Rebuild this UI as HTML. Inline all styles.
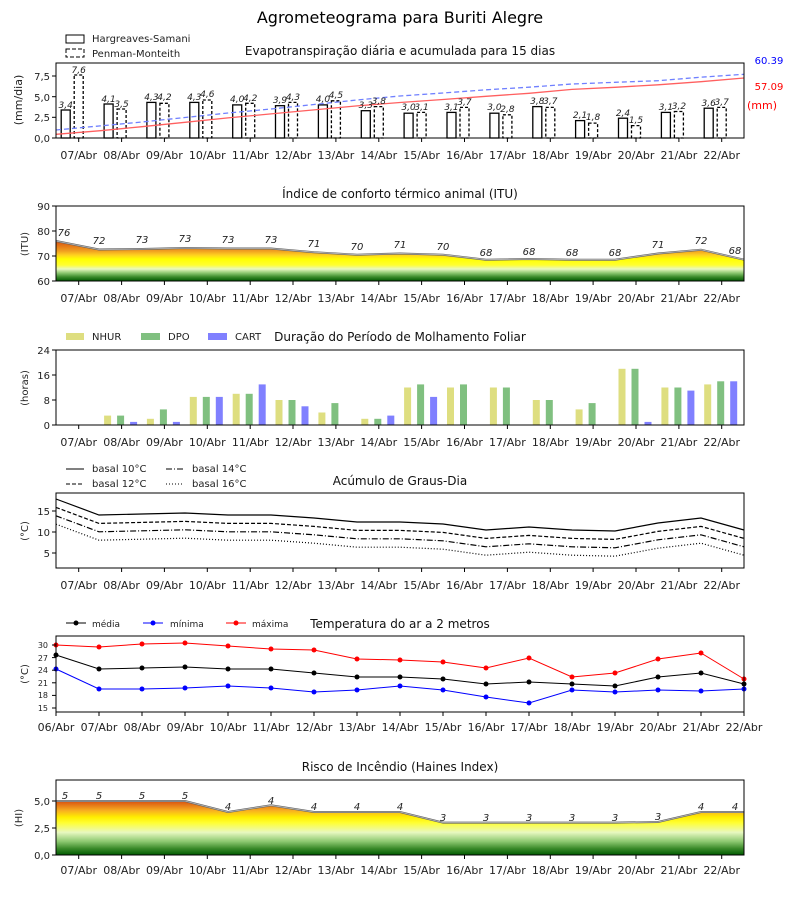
<!DOCTYPE html>
<html><head><meta charset="utf-8"><style>
html,body{margin:0;padding:0;background:#fff}
svg{display:block;font-family:"DejaVu Sans","Liberation Sans",sans-serif}
.t{font-size:11px;fill:#222}
.yt{font-size:10px;fill:#222;text-anchor:end}
.xl{font-size:11px;fill:#222;text-anchor:middle}
.it{font-size:9px;font-style:italic;fill:#222;text-anchor:middle}
.ttl{font-size:12px;fill:#111;text-anchor:middle}
.lg{font-size:10px;fill:#222}
.ax{fill:none;stroke:#000;stroke-width:1}
.tk{stroke:#000;stroke-width:1}
</style></head><body>
<svg width="800" height="900" viewBox="0 0 800 900" xmlns="http://www.w3.org/2000/svg">
<defs>
<linearGradient id="gi" gradientUnits="userSpaceOnUse" x1="0" y1="281" x2="0" y2="241">
<stop offset="0" stop-color="#005a00"/><stop offset="0.1" stop-color="#3a8a2a"/><stop offset="0.2" stop-color="#8cc870"/><stop offset="0.3" stop-color="#e8f8c0"/><stop offset="0.4" stop-color="#ffff30"/><stop offset="0.55" stop-color="#ffff00"/><stop offset="0.65" stop-color="#ffd020"/><stop offset="0.75" stop-color="#f0a020"/><stop offset="1" stop-color="#d85010"/>
</linearGradient>
<linearGradient id="gh" gradientUnits="userSpaceOnUse" x1="0" y1="855" x2="0" y2="801">
<stop offset="0" stop-color="#005a00"/><stop offset="0.12" stop-color="#3a8a2a"/><stop offset="0.25" stop-color="#8cc870"/><stop offset="0.42" stop-color="#e8f8c0"/><stop offset="0.6" stop-color="#ffff30"/><stop offset="0.7" stop-color="#ffee00"/><stop offset="0.82" stop-color="#f8b020"/><stop offset="1" stop-color="#d85010"/>
</linearGradient>
</defs>

<text x="400" y="23" font-size="16" text-anchor="middle" fill="#000">Agrometeograma para Buriti Alegre</text>

<!-- PANEL 1 -->
<rect x="66" y="35" width="18" height="8" fill="none" stroke="#000"/>
<text class="lg" x="92" y="42">Hargreaves-Samani</text>
<rect x="66" y="49" width="18" height="8" fill="none" stroke="#000" stroke-dasharray="4,2"/>
<text class="lg" x="92" y="57">Penman-Monteith</text>
<text class="ttl" x="400" y="55">Evapotranspiração diária e acumulada para 15 dias</text>
<g fill="none" stroke="#000" stroke-width="1.3">
<rect x="61.2" y="110" width="9" height="28"/><rect x="104.1" y="104" width="9" height="34"/><rect x="146.9" y="102.4" width="9" height="35.6"/><rect x="189.8" y="102.4" width="9" height="35.6"/><rect x="232.7" y="104.9" width="9" height="33.1"/><rect x="275.5" y="105.7" width="9" height="32.3"/><rect x="318.4" y="104.9" width="9" height="33.1"/><rect x="361.3" y="110.7" width="9" height="27.3"/><rect x="404.1" y="113.2" width="9" height="24.8"/><rect x="447" y="112.4" width="9" height="25.6"/><rect x="489.9" y="113.2" width="9" height="24.8"/><rect x="532.8" y="106.6" width="9" height="31.4"/><rect x="575.6" y="120.6" width="9" height="17.4"/><rect x="618.5" y="118.2" width="9" height="19.8"/><rect x="661.4" y="112.4" width="9" height="25.6"/><rect x="704.2" y="108.2" width="9" height="29.8"/>
</g>
<g fill="none" stroke="#000" stroke-width="1.3" stroke-dasharray="3,2">
<rect x="74.2" y="75" width="9" height="63"/><rect x="117.1" y="109" width="9" height="29"/><rect x="159.9" y="103.3" width="9" height="34.7"/><rect x="202.8" y="100" width="9" height="38"/><rect x="245.7" y="103.3" width="9" height="34.7"/><rect x="288.5" y="102.4" width="9" height="35.6"/><rect x="331.4" y="100.8" width="9" height="37.2"/><rect x="374.3" y="106.6" width="9" height="31.4"/><rect x="417.1" y="112.4" width="9" height="25.6"/><rect x="460" y="107.4" width="9" height="30.6"/><rect x="502.9" y="114.8" width="9" height="23.2"/><rect x="545.8" y="107.4" width="9" height="30.6"/><rect x="588.6" y="123.1" width="9" height="14.9"/><rect x="631.5" y="125.6" width="9" height="12.4"/><rect x="674.4" y="111.5" width="9" height="26.5"/><rect x="717.2" y="107.4" width="9" height="30.6"/>
</g>
<polyline fill="none" stroke="#ff6060" stroke-width="1.3" points="56,134.3 99,130.8 142,126.7 185,122.3 228,117.9 271,113.9 314,109.9 357,105.9 400,102.5 443,99.5 486,96.3 529,93.3 572,89.4 615,87.3 658,84.8 701,81.7 744,78"/>
<polyline fill="none" stroke="#7080ff" stroke-width="1.3" stroke-dasharray="5,3" points="56,130 99,126 142,122 185,117.5 228,113 271,109 314,104.5 357,100 400,96 443,93 486,89.8 529,87.2 572,84 615,82.3 658,80.7 701,77.2 744,74.3"/>
<g class="it">
<text x="65.7" y="108">3,4</text><text x="78.7" y="73">7,6</text>
<text x="108.6" y="102">4,1</text><text x="121.6" y="107">3,5</text>
<text x="151.4" y="100">4,3</text><text x="164.4" y="100">4,2</text>
<text x="194.3" y="100">4,3</text><text x="207.3" y="97">4,6</text>
<text x="237.2" y="102">4,0</text><text x="250.2" y="101">4,2</text>
<text x="280" y="103">3,9</text><text x="293" y="100">4,3</text>
<text x="322.9" y="102">4,0</text><text x="335.9" y="98">4,5</text>
<text x="365.8" y="108">3,3</text><text x="378.8" y="104">3,8</text>
<text x="408.6" y="110">3,0</text><text x="421.6" y="110">3,1</text>
<text x="451.5" y="110">3,1</text><text x="464.5" y="105">3,7</text>
<text x="494.4" y="110">3,0</text><text x="507.4" y="112">2,8</text>
<text x="537.3" y="104">3,8</text><text x="550.3" y="104">3,7</text>
<text x="580.1" y="118">2,1</text><text x="593.1" y="120">1,8</text>
<text x="623" y="116">2,4</text><text x="636" y="123">1,5</text>
<text x="665.9" y="110">3,1</text><text x="678.9" y="109">3,2</text>
<text x="708.7" y="106">3,6</text><text x="721.7" y="105">3,7</text>
</g>
<rect class="ax" x="56" y="63" width="688" height="75"/>
<text x="769" y="64" font-size="10" fill="#0000ff" text-anchor="middle">60.39</text>
<text x="769" y="90" font-size="10" fill="#ff0000" text-anchor="middle">57.09</text>
<text x="762" y="109" font-size="11" fill="#ff0000" text-anchor="middle">(mm)</text>
<g class="tk"><line x1="52" y1="76" x2="56" y2="76"/><line x1="52" y1="96.7" x2="56" y2="96.7"/><line x1="52" y1="117.3" x2="56" y2="117.3"/><line x1="52" y1="138" x2="56" y2="138"/></g>
<g class="yt"><text x="50" y="80">7,5</text><text x="50" y="101">5,0</text><text x="50" y="121">2,5</text><text x="50" y="142">0,0</text></g>
<text class="t" transform="translate(22,100) rotate(-90)" text-anchor="middle">(mm/dia)</text>
<g class="tk">
<line x1="78.7" y1="138" x2="78.7" y2="142"/><line x1="121.6" y1="138" x2="121.6" y2="142"/><line x1="164.4" y1="138" x2="164.4" y2="142"/><line x1="207.3" y1="138" x2="207.3" y2="142"/><line x1="250.2" y1="138" x2="250.2" y2="142"/><line x1="293" y1="138" x2="293" y2="142"/><line x1="335.9" y1="138" x2="335.9" y2="142"/><line x1="378.8" y1="138" x2="378.8" y2="142"/><line x1="421.6" y1="138" x2="421.6" y2="142"/><line x1="464.5" y1="138" x2="464.5" y2="142"/><line x1="507.4" y1="138" x2="507.4" y2="142"/><line x1="550.3" y1="138" x2="550.3" y2="142"/><line x1="593.1" y1="138" x2="593.1" y2="142"/><line x1="636" y1="138" x2="636" y2="142"/><line x1="678.9" y1="138" x2="678.9" y2="142"/><line x1="721.7" y1="138" x2="721.7" y2="142"/>
</g>
<g class="xl">
<text x="78.7" y="159">07/Abr</text><text x="121.6" y="159">08/Abr</text><text x="164.4" y="159">09/Abr</text><text x="207.3" y="159">10/Abr</text><text x="250.2" y="159">11/Abr</text><text x="293" y="159">12/Abr</text><text x="335.9" y="159">13/Abr</text><text x="378.8" y="159">14/Abr</text><text x="421.6" y="159">15/Abr</text><text x="464.5" y="159">16/Abr</text><text x="507.4" y="159">17/Abr</text><text x="550.3" y="159">18/Abr</text><text x="593.1" y="159">19/Abr</text><text x="636" y="159">20/Abr</text><text x="678.9" y="159">21/Abr</text><text x="721.7" y="159">22/Abr</text>
</g>

<!-- PANEL 2 ITU -->
<text class="ttl" x="400" y="198">Índice de conforto térmico animal (ITU)</text>
<polygon fill="url(#gi)" points="56,281 56,241 99,249.5 142,249 185,248 228,248.5 271,248.5 314,252.2 357,254.7 400,253.5 443,254.7 486,259.7 529,259 572,259.7 615,259.7 658,253.5 701,249.7 744,259.7 744,281"/>
<polyline fill="none" stroke="#666" stroke-width="2" points="56,241 99,249.5 142,249 185,248 228,248.5 271,248.5 314,252.2 357,254.7 400,253.5 443,254.7 486,259.7 529,259 572,259.7 615,259.7 658,253.5 701,249.7 744,259.7"/>
<polyline fill="none" stroke="#bbb" stroke-width="0.8" points="56,241 99,249.5 142,249 185,248 228,248.5 271,248.5 314,252.2 357,254.7 400,253.5 443,254.7 486,259.7 529,259 572,259.7 615,259.7 658,253.5 701,249.7 744,259.7"/>
<g class="it" font-size="10" style="font-size:10px">
<text x="64" y="236">76</text><text x="99" y="244">72</text><text x="142" y="243">73</text><text x="185" y="242">73</text><text x="228" y="243">73</text><text x="271" y="243">73</text><text x="314" y="247">71</text><text x="357" y="250">70</text><text x="400" y="248">71</text><text x="443" y="250">70</text><text x="486" y="256">68</text><text x="529" y="255">68</text><text x="572" y="256">68</text><text x="615" y="256">68</text><text x="658" y="248">71</text><text x="701" y="244">72</text><text x="735" y="254">68</text>
</g>
<rect class="ax" x="56" y="206" width="688" height="75"/>
<g class="tk"><line x1="52" y1="206" x2="56" y2="206"/><line x1="52" y1="231" x2="56" y2="231"/><line x1="52" y1="256" x2="56" y2="256"/><line x1="52" y1="281" x2="56" y2="281"/></g>
<g class="yt"><text x="50" y="210">90</text><text x="50" y="235">80</text><text x="50" y="260">70</text><text x="50" y="285">60</text></g>
<text class="t" transform="translate(28,244) rotate(-90)" text-anchor="middle" style="font-size:10px">(ITU)</text>
<g class="tk">
<line x1="78.7" y1="281" x2="78.7" y2="285"/><line x1="121.6" y1="281" x2="121.6" y2="285"/><line x1="164.4" y1="281" x2="164.4" y2="285"/><line x1="207.3" y1="281" x2="207.3" y2="285"/><line x1="250.2" y1="281" x2="250.2" y2="285"/><line x1="293" y1="281" x2="293" y2="285"/><line x1="335.9" y1="281" x2="335.9" y2="285"/><line x1="378.8" y1="281" x2="378.8" y2="285"/><line x1="421.6" y1="281" x2="421.6" y2="285"/><line x1="464.5" y1="281" x2="464.5" y2="285"/><line x1="507.4" y1="281" x2="507.4" y2="285"/><line x1="550.3" y1="281" x2="550.3" y2="285"/><line x1="593.1" y1="281" x2="593.1" y2="285"/><line x1="636" y1="281" x2="636" y2="285"/><line x1="678.9" y1="281" x2="678.9" y2="285"/><line x1="721.7" y1="281" x2="721.7" y2="285"/>
</g>
<g class="xl">
<text x="78.7" y="302">07/Abr</text><text x="121.6" y="302">08/Abr</text><text x="164.4" y="302">09/Abr</text><text x="207.3" y="302">10/Abr</text><text x="250.2" y="302">11/Abr</text><text x="293" y="302">12/Abr</text><text x="335.9" y="302">13/Abr</text><text x="378.8" y="302">14/Abr</text><text x="421.6" y="302">15/Abr</text><text x="464.5" y="302">16/Abr</text><text x="507.4" y="302">17/Abr</text><text x="550.3" y="302">18/Abr</text><text x="593.1" y="302">19/Abr</text><text x="636" y="302">20/Abr</text><text x="678.9" y="302">21/Abr</text><text x="721.7" y="302">22/Abr</text>
</g>

<!-- PANEL 3 Molhamento -->
<rect x="66" y="333" width="18" height="7" fill="#dede80"/><text class="lg" x="92" y="340">NHUR</text>
<rect x="141" y="333" width="19" height="7" fill="#80c080"/><text class="lg" x="168" y="340">DPO</text>
<rect x="208" y="333" width="19" height="7" fill="#8080ff"/><text class="lg" x="235" y="340">CART</text>
<text class="ttl" x="400" y="341">Duração do Período de Molhamento Foliar</text>
<g fill="#dede80">
<rect x="104.1" y="415.6" width="7" height="9.4"/><rect x="146.9" y="418.8" width="7" height="6.2"/><rect x="189.8" y="396.9" width="7" height="28.1"/><rect x="232.7" y="393.8" width="7" height="31.2"/><rect x="275.5" y="400" width="7" height="25"/><rect x="318.4" y="412.5" width="7" height="12.5"/><rect x="361.3" y="418.8" width="7" height="6.2"/><rect x="404.1" y="387.5" width="7" height="37.5"/><rect x="447" y="387.5" width="7" height="37.5"/><rect x="489.9" y="387.5" width="7" height="37.5"/><rect x="532.8" y="400" width="7" height="25"/><rect x="575.6" y="409.4" width="7" height="15.6"/><rect x="618.5" y="368.8" width="7" height="56.2"/><rect x="661.4" y="387.5" width="7" height="37.5"/><rect x="704.2" y="384.4" width="7" height="40.6"/>
</g>
<g fill="#80c080">
<rect x="117.1" y="415.6" width="7" height="9.4"/><rect x="159.9" y="409.4" width="7" height="15.6"/><rect x="202.8" y="396.9" width="7" height="28.1"/><rect x="245.7" y="393.8" width="7" height="31.2"/><rect x="288.5" y="400" width="7" height="25"/><rect x="331.4" y="403.1" width="7" height="21.9"/><rect x="374.3" y="418.8" width="7" height="6.2"/><rect x="417.1" y="384.4" width="7" height="40.6"/><rect x="460" y="384.4" width="7" height="40.6"/><rect x="502.9" y="387.5" width="7" height="37.5"/><rect x="545.8" y="400" width="7" height="25"/><rect x="588.6" y="403.1" width="7" height="21.9"/><rect x="631.5" y="368.8" width="7" height="56.2"/><rect x="674.4" y="387.5" width="7" height="37.5"/><rect x="717.2" y="381.3" width="7" height="43.7"/>
</g>
<g fill="#8080ff">
<rect x="130.1" y="421.9" width="7" height="3.1"/><rect x="172.9" y="421.9" width="7" height="3.1"/><rect x="215.8" y="396.9" width="7" height="28.1"/><rect x="258.7" y="384.4" width="7" height="40.6"/><rect x="301.5" y="406.3" width="7" height="18.7"/><rect x="387.3" y="415.6" width="7" height="9.4"/><rect x="430.1" y="396.9" width="7" height="28.1"/><rect x="644.5" y="421.9" width="7" height="3.1"/><rect x="687.4" y="390.6" width="7" height="34.4"/><rect x="730.2" y="381.3" width="7" height="43.7"/>
</g>
<rect class="ax" x="56" y="350" width="688" height="75"/>
<g class="tk"><line x1="52" y1="350" x2="56" y2="350"/><line x1="52" y1="375" x2="56" y2="375"/><line x1="52" y1="400" x2="56" y2="400"/><line x1="52" y1="425" x2="56" y2="425"/></g>
<g class="yt"><text x="50" y="354">24</text><text x="50" y="379">16</text><text x="50" y="404">8</text><text x="50" y="429">0</text></g>
<text class="t" transform="translate(28,388) rotate(-90)" text-anchor="middle" style="font-size:10px">(horas)</text>
<g class="tk">
<line x1="78.7" y1="425" x2="78.7" y2="429"/><line x1="121.6" y1="425" x2="121.6" y2="429"/><line x1="164.4" y1="425" x2="164.4" y2="429"/><line x1="207.3" y1="425" x2="207.3" y2="429"/><line x1="250.2" y1="425" x2="250.2" y2="429"/><line x1="293" y1="425" x2="293" y2="429"/><line x1="335.9" y1="425" x2="335.9" y2="429"/><line x1="378.8" y1="425" x2="378.8" y2="429"/><line x1="421.6" y1="425" x2="421.6" y2="429"/><line x1="464.5" y1="425" x2="464.5" y2="429"/><line x1="507.4" y1="425" x2="507.4" y2="429"/><line x1="550.3" y1="425" x2="550.3" y2="429"/><line x1="593.1" y1="425" x2="593.1" y2="429"/><line x1="636" y1="425" x2="636" y2="429"/><line x1="678.9" y1="425" x2="678.9" y2="429"/><line x1="721.7" y1="425" x2="721.7" y2="429"/>
</g>
<g class="xl">
<text x="78.7" y="446">07/Abr</text><text x="121.6" y="446">08/Abr</text><text x="164.4" y="446">09/Abr</text><text x="207.3" y="446">10/Abr</text><text x="250.2" y="446">11/Abr</text><text x="293" y="446">12/Abr</text><text x="335.9" y="446">13/Abr</text><text x="378.8" y="446">14/Abr</text><text x="421.6" y="446">15/Abr</text><text x="464.5" y="446">16/Abr</text><text x="507.4" y="446">17/Abr</text><text x="550.3" y="446">18/Abr</text><text x="593.1" y="446">19/Abr</text><text x="636" y="446">20/Abr</text><text x="678.9" y="446">21/Abr</text><text x="721.7" y="446">22/Abr</text>
</g>

<!-- PANEL 4 Graus-dia -->
<line x1="66" y1="469" x2="84" y2="469" stroke="#000"/><text class="lg" x="92" y="472">basal 10°C</text>
<line x1="66" y1="484" x2="84" y2="484" stroke="#000" stroke-dasharray="4,2"/><text class="lg" x="92" y="487">basal 12°C</text>
<line x1="166" y1="469" x2="184" y2="469" stroke="#000" stroke-dasharray="6,2,1,2"/><text class="lg" x="192" y="472">basal 14°C</text>
<line x1="166" y1="484" x2="184" y2="484" stroke="#000" stroke-dasharray="1,2"/><text class="lg" x="192" y="487">basal 16°C</text>
<text class="ttl" x="400" y="485">Acúmulo de Graus-Dia</text>
<g fill="none" stroke="#000" stroke-width="1.2">
<polyline points="56,499 99,515 142,514 185,513 228,515 271,515 314,518 357,522 400,522 443,524 486,530 529,527 572,530 615,531 658,523 701,518 744,530"/>
<polyline stroke-dasharray="4,2" transform="translate(0,8.4)" points="56,499 99,515 142,514 185,513 228,515 271,515 314,518 357,522 400,522 443,524 486,530 529,527 572,530 615,531 658,523 701,518 744,530"/>
<polyline stroke-dasharray="6,2,1,2" transform="translate(0,16.8)" points="56,499 99,515 142,514 185,513 228,515 271,515 314,518 357,522 400,522 443,524 486,530 529,527 572,530 615,531 658,523 701,518 744,530"/>
<polyline stroke-dasharray="1,2" transform="translate(0,25.2)" points="56,499 99,515 142,514 185,513 228,515 271,515 314,518 357,522 400,522 443,524 486,530 529,527 572,530 615,531 658,523 701,518 744,530"/>
</g>
<rect class="ax" x="56" y="493" width="688" height="75"/>
<g class="tk"><line x1="52" y1="511" x2="56" y2="511"/><line x1="52" y1="532" x2="56" y2="532"/><line x1="52" y1="553" x2="56" y2="553"/></g>
<g class="yt"><text x="50" y="515">15</text><text x="50" y="536">10</text><text x="50" y="557">5</text></g>
<text class="t" transform="translate(28,531) rotate(-90)" text-anchor="middle" style="font-size:10px">(°C)</text>
<g class="tk">
<line x1="78.7" y1="568" x2="78.7" y2="572"/><line x1="121.6" y1="568" x2="121.6" y2="572"/><line x1="164.4" y1="568" x2="164.4" y2="572"/><line x1="207.3" y1="568" x2="207.3" y2="572"/><line x1="250.2" y1="568" x2="250.2" y2="572"/><line x1="293" y1="568" x2="293" y2="572"/><line x1="335.9" y1="568" x2="335.9" y2="572"/><line x1="378.8" y1="568" x2="378.8" y2="572"/><line x1="421.6" y1="568" x2="421.6" y2="572"/><line x1="464.5" y1="568" x2="464.5" y2="572"/><line x1="507.4" y1="568" x2="507.4" y2="572"/><line x1="550.3" y1="568" x2="550.3" y2="572"/><line x1="593.1" y1="568" x2="593.1" y2="572"/><line x1="636" y1="568" x2="636" y2="572"/><line x1="678.9" y1="568" x2="678.9" y2="572"/><line x1="721.7" y1="568" x2="721.7" y2="572"/>
</g>
<g class="xl">
<text x="78.7" y="589">07/Abr</text><text x="121.6" y="589">08/Abr</text><text x="164.4" y="589">09/Abr</text><text x="207.3" y="589">10/Abr</text><text x="250.2" y="589">11/Abr</text><text x="293" y="589">12/Abr</text><text x="335.9" y="589">13/Abr</text><text x="378.8" y="589">14/Abr</text><text x="421.6" y="589">15/Abr</text><text x="464.5" y="589">16/Abr</text><text x="507.4" y="589">17/Abr</text><text x="550.3" y="589">18/Abr</text><text x="593.1" y="589">19/Abr</text><text x="636" y="589">20/Abr</text><text x="678.9" y="589">21/Abr</text><text x="721.7" y="589">22/Abr</text>
</g>

<!-- PANEL 5 Temperatura -->
<line x1="66" y1="623" x2="86" y2="623" stroke="#000"/><circle cx="76" cy="623" r="2.5" fill="#000"/><text class="lg" x="92" y="627" style="font-size:9px">média</text>
<line x1="143" y1="623" x2="163" y2="623" stroke="#00f"/><circle cx="153" cy="623" r="2.5" fill="#00f"/><text class="lg" x="170" y="627" style="font-size:9px">mínima</text>
<line x1="226" y1="623" x2="246" y2="623" stroke="#f00"/><circle cx="236" cy="623" r="2.5" fill="#f00"/><text class="lg" x="252" y="627" style="font-size:9px">máxima</text>
<text class="ttl" x="400" y="628">Temperatura do ar a 2 metros</text>
<g stroke-width="1">
<polyline fill="none" stroke="#f00" points="56,645 99,647 142,644 185,643 228,646 271,649 314,650 357,659 400,660 443,662 486,668 529,658 572,677 615,673 658,659 701,653 744,679"/>
<polyline fill="none" stroke="#000" points="56,655 99,669 142,668 185,667 228,669 271,669 314,673 357,677 400,677 443,679 486,684 529,682 572,684 615,686 658,677 701,673 744,684"/>
<polyline fill="none" stroke="#00f" points="56,669 99,689 142,689 185,688 228,686 271,688 314,692 357,690 400,686 443,690 486,697 529,703 572,690 615,692 658,690 701,691 744,689"/>
</g>
<g fill="#f00"><circle cx="56" cy="645" r="2.5"/><circle cx="99" cy="647" r="2.5"/><circle cx="142" cy="644" r="2.5"/><circle cx="185" cy="643" r="2.5"/><circle cx="228" cy="646" r="2.5"/><circle cx="271" cy="649" r="2.5"/><circle cx="314" cy="650" r="2.5"/><circle cx="357" cy="659" r="2.5"/><circle cx="400" cy="660" r="2.5"/><circle cx="443" cy="662" r="2.5"/><circle cx="486" cy="668" r="2.5"/><circle cx="529" cy="658" r="2.5"/><circle cx="572" cy="677" r="2.5"/><circle cx="615" cy="673" r="2.5"/><circle cx="658" cy="659" r="2.5"/><circle cx="701" cy="653" r="2.5"/><circle cx="744" cy="679" r="2.5"/></g>
<g fill="#000"><circle cx="56" cy="655" r="2.5"/><circle cx="99" cy="669" r="2.5"/><circle cx="142" cy="668" r="2.5"/><circle cx="185" cy="667" r="2.5"/><circle cx="228" cy="669" r="2.5"/><circle cx="271" cy="669" r="2.5"/><circle cx="314" cy="673" r="2.5"/><circle cx="357" cy="677" r="2.5"/><circle cx="400" cy="677" r="2.5"/><circle cx="443" cy="679" r="2.5"/><circle cx="486" cy="684" r="2.5"/><circle cx="529" cy="682" r="2.5"/><circle cx="572" cy="684" r="2.5"/><circle cx="615" cy="686" r="2.5"/><circle cx="658" cy="677" r="2.5"/><circle cx="701" cy="673" r="2.5"/><circle cx="744" cy="684" r="2.5"/></g>
<g fill="#00f"><circle cx="56" cy="669" r="2.5"/><circle cx="99" cy="689" r="2.5"/><circle cx="142" cy="689" r="2.5"/><circle cx="185" cy="688" r="2.5"/><circle cx="228" cy="686" r="2.5"/><circle cx="271" cy="688" r="2.5"/><circle cx="314" cy="692" r="2.5"/><circle cx="357" cy="690" r="2.5"/><circle cx="400" cy="686" r="2.5"/><circle cx="443" cy="690" r="2.5"/><circle cx="486" cy="697" r="2.5"/><circle cx="529" cy="703" r="2.5"/><circle cx="572" cy="690" r="2.5"/><circle cx="615" cy="692" r="2.5"/><circle cx="658" cy="690" r="2.5"/><circle cx="701" cy="691" r="2.5"/><circle cx="744" cy="689" r="2.5"/></g>
<rect class="ax" x="56" y="636" width="688" height="76"/>
<g class="tk"><line x1="52" y1="645" x2="56" y2="645"/><line x1="52" y1="657.6" x2="56" y2="657.6"/><line x1="52" y1="670.2" x2="56" y2="670.2"/><line x1="52" y1="682.8" x2="56" y2="682.8"/><line x1="52" y1="695.4" x2="56" y2="695.4"/><line x1="52" y1="708" x2="56" y2="708"/></g>
<g class="yt" style="font-size:8px"><text x="48" y="648">30</text><text x="48" y="661">27</text><text x="48" y="673">24</text><text x="48" y="686">21</text><text x="48" y="698">18</text><text x="48" y="711">15</text></g>
<text class="t" transform="translate(28,674) rotate(-90)" text-anchor="middle" style="font-size:10px">(°C)</text>
<g class="tk">
<line x1="56" y1="712" x2="56" y2="716"/><line x1="99" y1="712" x2="99" y2="716"/><line x1="142" y1="712" x2="142" y2="716"/><line x1="185" y1="712" x2="185" y2="716"/><line x1="228" y1="712" x2="228" y2="716"/><line x1="271" y1="712" x2="271" y2="716"/><line x1="314" y1="712" x2="314" y2="716"/><line x1="357" y1="712" x2="357" y2="716"/><line x1="400" y1="712" x2="400" y2="716"/><line x1="443" y1="712" x2="443" y2="716"/><line x1="486" y1="712" x2="486" y2="716"/><line x1="529" y1="712" x2="529" y2="716"/><line x1="572" y1="712" x2="572" y2="716"/><line x1="615" y1="712" x2="615" y2="716"/><line x1="658" y1="712" x2="658" y2="716"/><line x1="701" y1="712" x2="701" y2="716"/><line x1="744" y1="712" x2="744" y2="716"/>
</g>
<g class="xl">
<text x="56" y="731">06/Abr</text><text x="99" y="731">07/Abr</text><text x="142" y="731">08/Abr</text><text x="185" y="731">09/Abr</text><text x="228" y="731">10/Abr</text><text x="271" y="731">11/Abr</text><text x="314" y="731">12/Abr</text><text x="357" y="731">13/Abr</text><text x="400" y="731">14/Abr</text><text x="443" y="731">15/Abr</text><text x="486" y="731">16/Abr</text><text x="529" y="731">17/Abr</text><text x="572" y="731">18/Abr</text><text x="615" y="731">19/Abr</text><text x="658" y="731">20/Abr</text><text x="701" y="731">21/Abr</text><text x="744" y="731">22/Abr</text>
</g>

<!-- PANEL 6 Haines -->
<text class="ttl" x="400" y="771">Risco de Incêndio (Haines Index)</text>
<polygon fill="url(#gh)" points="56,855 56,801 99,801 142,801 185,801 228,812 271,805.3 314,812 357,812 400,812 443,822.6 486,822.6 529,822.6 572,822.6 615,822.6 658,822 701,812 744,812 744,855"/>
<polyline fill="none" stroke="#666" stroke-width="2" points="56,801 99,801 142,801 185,801 228,812 271,805.3 314,812 357,812 400,812 443,822.6 486,822.6 529,822.6 572,822.6 615,822.6 658,822 701,812 744,812"/>
<polyline fill="none" stroke="#bbb" stroke-width="0.8" points="56,801 99,801 142,801 185,801 228,812 271,805.3 314,812 357,812 400,812 443,822.6 486,822.6 529,822.6 572,822.6 615,822.6 658,822 701,812 744,812"/>
<g class="it" style="font-size:10px">
<text x="65" y="799">5</text><text x="99" y="799">5</text><text x="142" y="799">5</text><text x="185" y="799">5</text><text x="228" y="810">4</text><text x="271" y="804">4</text><text x="314" y="810">4</text><text x="357" y="810">4</text><text x="400" y="810">4</text><text x="443" y="821">3</text><text x="486" y="821">3</text><text x="529" y="821">3</text><text x="572" y="821">3</text><text x="615" y="821">3</text><text x="658" y="820">3</text><text x="701" y="810">4</text><text x="735" y="810">4</text>
</g>
<rect class="ax" x="56" y="780" width="688" height="75"/>
<g class="tk"><line x1="52" y1="801" x2="56" y2="801"/><line x1="52" y1="828" x2="56" y2="828"/><line x1="52" y1="855" x2="56" y2="855"/></g>
<g class="yt"><text x="50" y="805">5,0</text><text x="50" y="832">2,5</text><text x="50" y="859">0,0</text></g>
<text class="t" transform="translate(22,818) rotate(-90)" text-anchor="middle" style="font-size:10px">(HI)</text>
<g class="tk">
<line x1="78.7" y1="855" x2="78.7" y2="859"/><line x1="121.6" y1="855" x2="121.6" y2="859"/><line x1="164.4" y1="855" x2="164.4" y2="859"/><line x1="207.3" y1="855" x2="207.3" y2="859"/><line x1="250.2" y1="855" x2="250.2" y2="859"/><line x1="293" y1="855" x2="293" y2="859"/><line x1="335.9" y1="855" x2="335.9" y2="859"/><line x1="378.8" y1="855" x2="378.8" y2="859"/><line x1="421.6" y1="855" x2="421.6" y2="859"/><line x1="464.5" y1="855" x2="464.5" y2="859"/><line x1="507.4" y1="855" x2="507.4" y2="859"/><line x1="550.3" y1="855" x2="550.3" y2="859"/><line x1="593.1" y1="855" x2="593.1" y2="859"/><line x1="636" y1="855" x2="636" y2="859"/><line x1="678.9" y1="855" x2="678.9" y2="859"/><line x1="721.7" y1="855" x2="721.7" y2="859"/>
</g>
<g class="xl">
<text x="78.7" y="874">07/Abr</text><text x="121.6" y="874">08/Abr</text><text x="164.4" y="874">09/Abr</text><text x="207.3" y="874">10/Abr</text><text x="250.2" y="874">11/Abr</text><text x="293" y="874">12/Abr</text><text x="335.9" y="874">13/Abr</text><text x="378.8" y="874">14/Abr</text><text x="421.6" y="874">15/Abr</text><text x="464.5" y="874">16/Abr</text><text x="507.4" y="874">17/Abr</text><text x="550.3" y="874">18/Abr</text><text x="593.1" y="874">19/Abr</text><text x="636" y="874">20/Abr</text><text x="678.9" y="874">21/Abr</text><text x="721.7" y="874">22/Abr</text>
</g>
</svg>
</body></html>
